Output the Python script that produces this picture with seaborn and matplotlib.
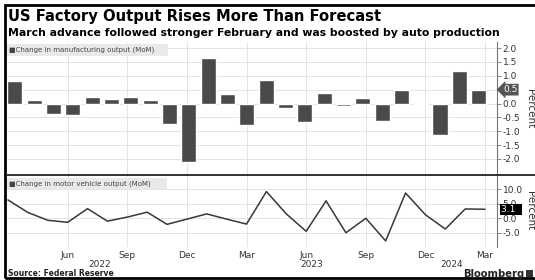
"""
US factory output chart (Bloomberg style)
Manufacturing output bars on top, motor vehicle output line below
"""

import matplotlib
matplotlib.use('Agg')
import matplotlib.pyplot as plt
import matplotlib.transforms as mtransforms
from matplotlib.patches import Rectangle
import numpy as np
import seaborn as sns

# Data: monthly, Mar 2022 .. Mar 2024
mfg_output = [0.80, 0.13, -0.37, -0.43, 0.24, 0.18, 0.24, 0.13, -0.74, -2.10,
              1.66, 0.35, -0.79, 0.86, -0.16, -0.68, 0.38, -0.10, 0.19, -0.64,
              0.50, 0.01, -1.14, 1.18, 0.50]
vehicle_output = [6.3, 2.0, -0.7, -1.4, 3.3, -1.0, 0.4, 2.1, -2.1, -0.3,
                  1.5, -0.3, -2.0, 9.2, 1.5, -4.5, 6.0, -5.0, 0.0, -7.8,
                  8.7, 1.2, -3.7, 3.2, 3.1]
tick_labels = ['Jun', 'Sep', 'Dec', 'Mar', 'Jun', 'Sep', 'Dec', 'Mar']
year_labels = ['2022', '2023', '2024']

n = len(mfg_output)
line_x = np.arange(n)
# bloomberg spaces the bars on a slightly tighter grid than the line
bar_x = 0.35 + line_x * 0.972
tick_x = np.arange(3, n, 3)
year_x = [4.6, 15.3, 22.3]

sns.set_style("white")
plt.rcParams['font.family'] = ['DejaVu Sans']
plt.rcParams['axes.unicode_minus'] = False

W, H = 535, 280
fig = plt.figure(figsize=(W / 100, H / 100), dpi=100)
fig.patch.set_facecolor('white')


def fx(px):
    return px / W


def fy(py):
    return 1 - py / H


grid_c = '#e4e4e4'
text_c = '#333333'
ax1 = fig.add_axes([fx(7), fy(175), fx(490), (175 - 42) / H])
ax2 = fig.add_axes([fx(7), fy(247), fx(490), (247 - 175) / H])

sns.barplot(x=bar_x, y=mfg_output, native_scale=True, color='#4a4a4a',
            width=0.78, errorbar=None, saturation=1, ax=ax1)
sns.lineplot(x=line_x, y=vehicle_output, color='#383838', lw=1.1, ax=ax2)

for ax in (ax1, ax2):
    ax.set_xlim(-0.05, 24.6)
    ax.set_xticks(tick_x)
    ax.yaxis.tick_right()
    ax.yaxis.set_label_position('right')
    for s in ('left', 'top', 'bottom'):
        ax.spines[s].set_visible(False)
    ax.spines['right'].set_color('#777777')
    ax.spines['right'].set_linewidth(0.8)
    ax.grid(True, color=grid_c, lw=0.7)
    ax.set_axisbelow(True)
    ax.tick_params(axis='y', length=3, width=0.6, color='#777777', pad=1,
                   labelsize=6.5, labelcolor=text_c)
    ax.tick_params(axis='x', length=0)
    ax.set_ylabel('Percent', rotation=270, fontsize=7.5, color=text_c,
                  va='center', ha='center')
    ax.yaxis.set_label_coords(1.068, 0.5)
    ax.set_xlabel('')

ax1.set_ylim(-2.58, 2.22)
ax1.set_yticks(np.arange(-2.0, 2.01, 0.5))
ax1.set_yticklabels([f'{v:.1f}' for v in np.arange(-2.0, 2.01, 0.5)])
ax1.tick_params(axis='x', labelbottom=False)

ax2.set_ylim(-9.9, 14.9)
ax2.set_yticks([-5, 0, 5, 10])
ax2.set_yticklabels(['-5.0', '0.0', '5.0', '10.0'])
ax2.set_xticklabels(tick_labels)
ax2.tick_params(axis='x', labelsize=6.5, labelcolor=text_c, pad=3)

# year labels under the month ticks
for x, lab in zip(year_x, year_labels):
    ax2.text(x, -0.24, lab, transform=ax2.get_xaxis_transform(),
             ha='center', va='center', fontsize=6.5, color=text_c)

# last value tags on the right axis
t1 = mtransforms.blended_transform_factory(ax1.transAxes, ax1.transData)
ax1.text(1.012, mfg_output[-1], f'{mfg_output[-1]:.1f}', transform=t1,
         ha='left', va='center', fontsize=6.5, color='white',
         bbox=dict(boxstyle='larrow,pad=0.15', fc='#555555', ec='none'))
t2 = mtransforms.blended_transform_factory(ax2.transAxes, ax2.transData)
ax2.text(1.008, vehicle_output[-1], f'{vehicle_output[-1]:.1f}  ', transform=t2,
         ha='left', va='center', fontsize=6.5, color='white',
         bbox=dict(boxstyle='square,pad=0.12', fc='black', ec='none'))

# legend tags
ax1.text(0.004, 0.965, '\u25a0Change in manufacturing output (MoM)     ',
         transform=ax1.transAxes, ha='left', va='top', fontsize=5, color='#444444',
         bbox=dict(boxstyle='square,pad=0.35', fc='#e9e9e9', ec='none'))
ax2.text(0.004, 0.93, '\u25a0Change in motor vehicle output (MoM)      ',
         transform=ax2.transAxes, ha='left', va='top', fontsize=5, color='#444444',
         bbox=dict(boxstyle='square,pad=0.35', fc='#e9e9e9', ec='none'))

# titles
fig.text(fx(8), fy(16), 'US Factory Output Rises More Than Forecast',
         ha='left', va='center', fontsize=10.6, fontweight='bold', color='black')
fig.text(fx(8), fy(33), 'March advance followed stronger February and was boosted by auto production',
         ha='left', va='center', fontsize=7.8, fontweight='bold', color='black')

# footer
fig.text(fx(8), fy(273), 'Source: Federal Reserve', ha='left', va='center',
         fontsize=5.5, fontweight='bold', color='#222222')
fig.text(fx(524), fy(274), 'Bloomberg', ha='right', va='center',
         fontsize=7.2, fontweight='bold', color='#222222')
fig.patches.append(Rectangle((fx(526), fy(277)), fx(7), 7 / H, transform=fig.transFigure,
                             fc='#333333', ec='none'))

# panel separator and outer frame
fig.add_artist(plt.Line2D([fx(7), 1], [fy(175), fy(175)], color='#222222', lw=1.3))
fig.add_artist(Rectangle((fx(5), fy(278)), 1, (278 - 5) / H, transform=fig.transFigure,
                         fill=False, ec='black', lw=2))

fig.savefig('out.png', dpi=100)
